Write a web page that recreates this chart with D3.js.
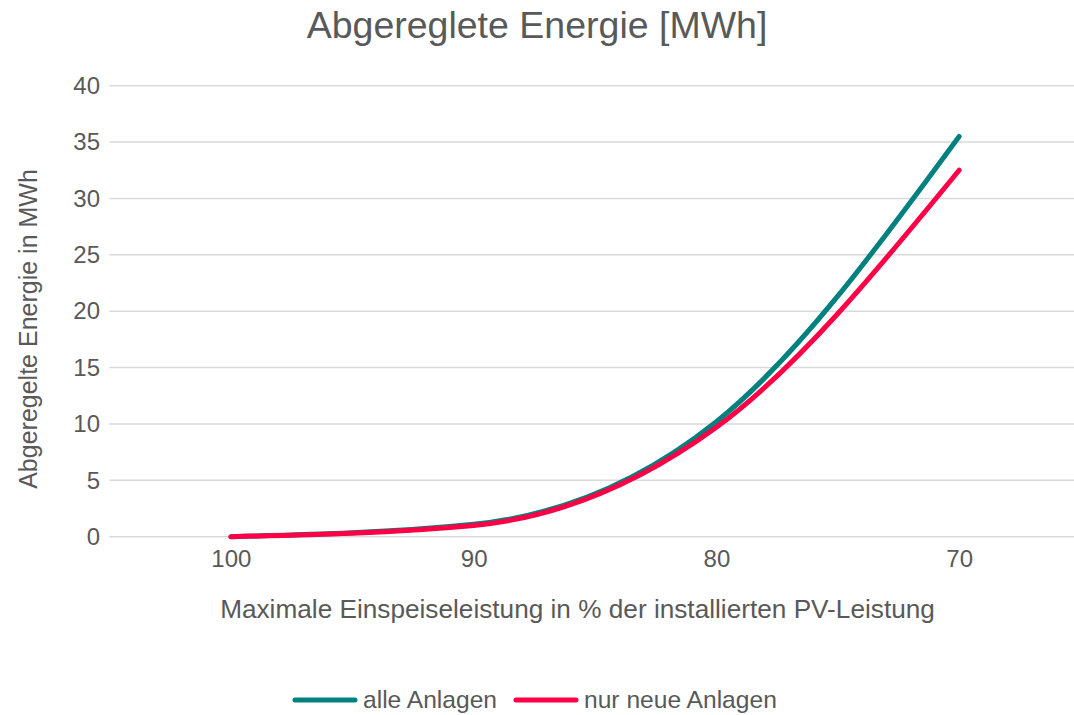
<!DOCTYPE html>
<html>
<head>
<meta charset="utf-8">
<script src="https://cdn.jsdelivr.net/npm/d3@7/dist/d3.min.js"></script>
<style>
  html, body { margin: 0; padding: 0; background: #fff; }
  svg { display: block; font-family: "Liberation Sans", Arial, sans-serif; }
</style>
</head>
<body>
<svg id="chart" width="1074" height="715"></svg>
<script>
// ---- Data ----
const categories = ["100", "90", "80", "70"];
const alleAnlagen = [0, 1.1, 10.2, 35.5];
const nurNeueAnlagen = [0, 1.0, 9.7, 32.5];
const yTicks = [0, 5, 10, 15, 20, 25, 30, 35, 40];
const seriesNames = ["alle Anlagen", "nur neue Anlagen"];
const seriesColors = ["#00807E", "#FF0047"];

const titleText = "Abgereglete Energie [MWh]";
const xTitle = "Maximale Einspeiseleistung in % der installierten PV-Leistung";
const yTitle = "Abgeregelte Energie in MWh";

(function () {
// ---- Layout ----
const svg = d3.select("#chart");
const pLeft = 109.5, pRight = 1080.5, pTop = 85.7, pBottom = 536.7;
const textColor = "#595959";
const ff = "Liberation Sans, Arial, sans-serif";

const x = d3.scalePoint().domain(categories).range([pLeft, pRight]).padding(0.5);
const y = d3.scaleLinear().domain([0, 40]).range([pBottom, pTop]);

// gridlines
svg.append("g").selectAll("line").data(yTicks).join("line")
  .attr("x1", pLeft).attr("x2", pRight)
  .attr("y1", d => y(d)).attr("y2", d => y(d))
  .attr("stroke", "#D9D9D9").attr("stroke-width", 1.5);

// y axis labels
const yAxis = d3.axisLeft(y).tickValues(yTicks).tickSize(0).tickPadding(0);
const gy = svg.append("g").attr("transform", `translate(100,0)`).call(yAxis);
gy.select(".domain").remove();
gy.selectAll("text").attr("fill", textColor).style("font-size", "24px")
  .style("font-family", ff);

// x axis labels
const xAxis = d3.axisBottom(x).tickSize(0).tickPadding(0);
const gx = svg.append("g").attr("transform", `translate(0,550)`).call(xAxis);
gx.select(".domain").remove();
gx.selectAll("text").attr("fill", textColor).style("font-size", "24px")
  .style("font-family", ff);

// lines
const line = d3.line()
  .x((d, i) => x(categories[i]))
  .y(d => y(d))
  .curve(d3.curveMonotoneX);

[alleAnlagen, nurNeueAnlagen].forEach((s, i) => {
  svg.append("path").datum(s)
    .attr("d", line)
    .attr("fill", "none")
    .attr("stroke", seriesColors[i])
    .attr("stroke-width", 5)
    .attr("stroke-linecap", "round")
    .attr("stroke-linejoin", "round");
});

// title
svg.append("text").attr("x", 537).attr("y", 38).attr("text-anchor", "middle")
  .attr("fill", textColor).style("font-size", "37.5px").text(titleText);

// axis titles
svg.append("text").attr("x", 577.5).attr("y", 618).attr("text-anchor", "middle")
  .attr("fill", textColor).style("font-size", "26.2px").text(xTitle);

svg.append("text").attr("transform", "translate(37,329) rotate(-90)")
  .attr("text-anchor", "middle")
  .attr("fill", textColor).style("font-size", "25px").text(yTitle);

// legend
const legendItems = [
  { name: seriesNames[0], color: seriesColors[0], x0: 295 },
  { name: seriesNames[1], color: seriesColors[1], x0: 516 }
];
const ly = 700;
legendItems.forEach(it => {
  svg.append("line").attr("x1", it.x0).attr("x2", it.x0 + 60)
    .attr("y1", ly).attr("y2", ly)
    .attr("stroke", it.color).attr("stroke-width", 5).attr("stroke-linecap", "round");
  svg.append("text").attr("x", it.x0 + 68).attr("y", ly + 7.5)
    .attr("fill", textColor).style("font-size", "24.6px").text(it.name);
});
})();
</script>
</body>
</html>
